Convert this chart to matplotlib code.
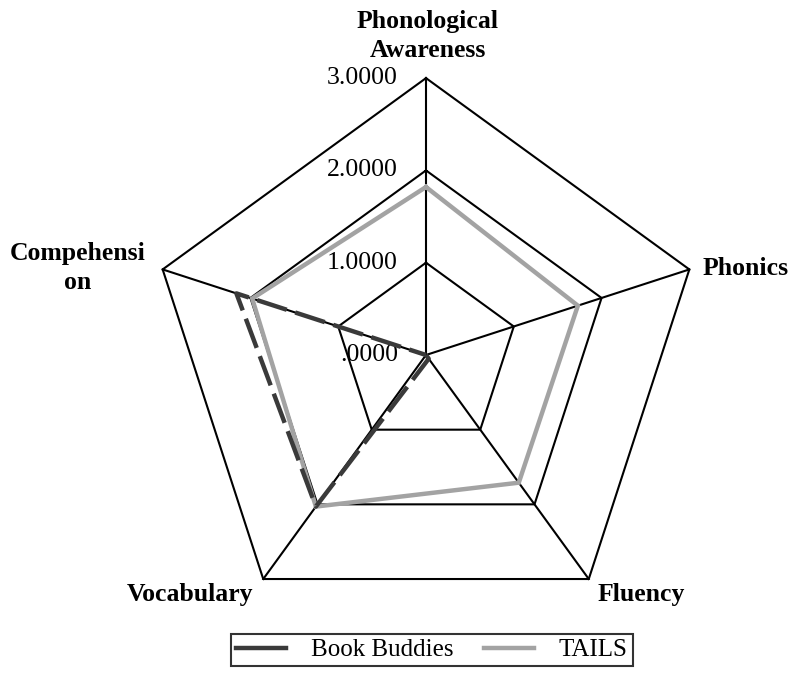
import matplotlib.pyplot as plt
import numpy as np
from matplotlib.lines import Line2D

categories = ["Phonological\nAwareness", "Phonics", "Fluency", "Vocabulary", "Compehensi\non"]
book_buddies = [0.0, 0.0, 0.05, 2.03, 2.16]
tails = [1.82, 1.73, 1.71, 2.03, 1.98]
levels = [0, 1, 2, 3]
level_labels = [".0000", "1.0000", "2.0000", "3.0000"]

W, H = 800, 681
cx, cy = 426, 355          # centre of the web in pixels (from top)
s = 92.3                   # pixels per unit

plt.rcParams["font.family"] = ["Liberation Serif", "DejaVu Serif"]

fig = plt.figure(figsize=(W / 100, H / 100), dpi=100)
ax = fig.add_axes([0, 0, 1, 1])
ax.set_xlim(-cx / s, (W - cx) / s)
ax.set_ylim(-(H - cy) / s, cy / s)
ax.axis("off")


def px(x, y):
    # pixel position (from top-left) -> data coords
    return (x - cx) / s, (cy - y) / s


ang = np.deg2rad(90 - 72 * np.arange(len(categories)))


def xy(vals):
    v = np.append(vals, vals[0])
    a = np.append(ang, ang[0])
    return v * np.cos(a), v * np.sin(a)


# web
for lv in levels[1:]:
    gx, gy = xy([lv] * len(categories))
    ax.plot(gx, gy, color="black", lw=1.5, zorder=1)
for a in ang:
    ax.plot([0, levels[-1] * np.cos(a)], [0, levels[-1] * np.sin(a)], color="black", lw=1.5, zorder=1)

# series
tx, ty = xy(tails)
ax.plot(tx, ty, color="#a3a3a3", lw=3.2, zorder=3, solid_joinstyle="miter")
bx, by = xy(book_buddies)
ax.plot(bx, by, color="#3a3a3a", lw=3.2, dashes=(7, 2), zorder=4)

# level labels
for lv, lab in zip(levels, level_labels):
    x, y = px(398, cy - lv * s)
    ax.text(x, y, lab, ha="right", va="center", fontsize=18.5)

# category labels
lab_pos = [((428, 36), "center"), ((703, 268), "left"), ((598, 594), "left"),
           ((253, 594), "right"), ((78, 268), "center")]
for cat, ((x, y), ha) in zip(categories, lab_pos):
    dx, dy = px(x, y)
    ax.text(dx, dy, cat, ha=ha, va="center", fontsize=18.5, fontweight="bold",
            linespacing=1.35, multialignment="center")

handles = [Line2D([], [], color="#3a3a3a", lw=3.2), Line2D([], [], color="#a3a3a3", lw=3.2)]
leg = ax.legend(handles, ["Book Buddies", "TAILS"], loc="center",
                bbox_to_anchor=px(432, 650), bbox_transform=ax.transData,
                ncol=2, fontsize=18, frameon=True, fancybox=False,
                handlelength=2.0, handletextpad=1.0, columnspacing=1.2,
                borderpad=0.2, borderaxespad=0)
leg.get_frame().set_edgecolor("black")
leg.get_frame().set_linewidth(1.5)

fig.savefig("out.png", dpi=100)
